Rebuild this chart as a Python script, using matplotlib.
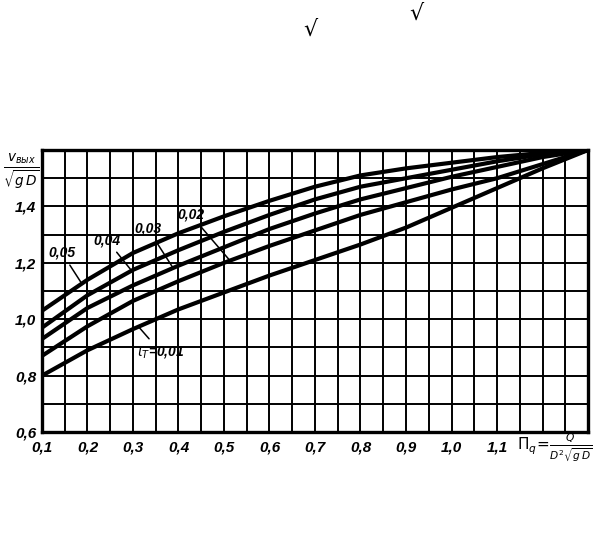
import numpy as np
import matplotlib.pyplot as plt

plt.rcParams['font.family'] = ['Liberation Sans', 'DejaVu Sans']

# n_q values (x axis)
nq = [0.1, 0.2, 0.3, 0.4, 0.5, 0.6, 0.7, 0.8, 0.9, 1.0, 1.1, 1.2, 1.3]

# v_out / sqrt(gD) for each t_T
v_005 = [1.03, 1.14, 1.235, 1.305, 1.365, 1.42, 1.47, 1.51, 1.535, 1.555, 1.575, 1.59, 1.60]
v_004 = [0.97, 1.085, 1.175, 1.245, 1.31, 1.37, 1.425, 1.47, 1.50, 1.53, 1.56, 1.585, 1.60]
v_003 = [0.93, 1.04, 1.12, 1.19, 1.255, 1.32, 1.375, 1.425, 1.465, 1.505, 1.54, 1.575, 1.60]
v_002 = [0.87, 0.975, 1.065, 1.135, 1.20, 1.26, 1.315, 1.37, 1.415, 1.46, 1.50, 1.55, 1.60]
v_001 = [0.80, 0.89, 0.965, 1.035, 1.095, 1.155, 1.21, 1.265, 1.325, 1.395, 1.465, 1.535, 1.60]

curves = [v_005, v_004, v_003, v_002, v_001]

# curve labels: text, label position, point on curve
labels = ['0,05', '0,04', '0,03', '0,02', r'$\iota_T$=0,01']
label_pos = [(0.144, 1.235), (0.243, 1.28), (0.333, 1.32), (0.427, 1.37), (0.36, 0.885)]
label_tip = [(0.188, 1.125), (0.298, 1.17), (0.388, 1.182), (0.513, 1.208), (0.313, 0.972)]

x_ticks = [0.1, 0.2, 0.3, 0.4, 0.5, 0.6, 0.7, 0.8, 0.9, 1.0, 1.1]
x_tick_labels = ['0,1', '0,2', '0,3', '0,4', '0,5', '0,6', '0,7', '0,8', '0,9', '1,0', '1,1']
y_ticks = [0.6, 0.8, 1.0, 1.2, 1.4]
y_tick_labels = ['0,6', '0,8', '1,0', '1,2', '1,4']

fig = plt.figure(figsize=(6.12, 5.45), dpi=100, facecolor='white')
ax = fig.add_axes([0.0686, 0.2073, 0.8922, 0.5174])

for vals in curves:
    ax.plot(nq, vals, color='black', lw=3, solid_joinstyle='round')

ax.set_xlim(0.1, 1.3)
ax.set_ylim(0.6, 1.6)
ax.set_xticks(np.arange(0.1, 1.3001, 0.05), minor=True)
ax.set_yticks(np.arange(0.6, 1.6001, 0.1), minor=True)
ax.set_xticks(x_ticks)
ax.set_xticklabels(x_tick_labels)
ax.set_yticks(y_ticks)
ax.set_yticklabels(y_tick_labels)
ax.grid(which='both', color='black', lw=1.4)
ax.tick_params(which='both', length=0)
ax.tick_params(axis='x', pad=6)
ax.tick_params(axis='y', pad=4)
for lab in ax.get_xticklabels() + ax.get_yticklabels():
    lab.set_fontsize(11)
    lab.set_style('italic')
    lab.set_weight('bold')
for sp in ax.spines.values():
    sp.set_linewidth(2.4)

for txt, pos, tip in zip(labels, label_pos, label_tip):
    ax.annotate(txt, xy=tip, xytext=pos, ha='center', va='center',
                fontsize=10, style='italic', weight='bold',
                arrowprops=dict(arrowstyle='-', color='black', lw=1.1,
                                shrinkA=2, shrinkB=0))

# axis titles
fig.text(0.035, 0.686, r'$\frac{v_{вых}}{\sqrt{g\,D}}$', ha='center', va='center',
         fontsize=14, weight='bold')
fig.text(0.907, 0.178, r'$\Pi_q\!=\!\frac{Q}{D^2\sqrt{g\,D}}$', ha='center', va='center',
         fontsize=11)

# stray marks of the scan
fig.text(0.508, 0.945, '√', ha='center', va='center', fontsize=16, family='DejaVu Sans')
fig.text(0.68, 0.975, '√', ha='center', va='center', fontsize=16, family='DejaVu Sans')

fig.savefig('out.png', dpi=100, facecolor='white')
